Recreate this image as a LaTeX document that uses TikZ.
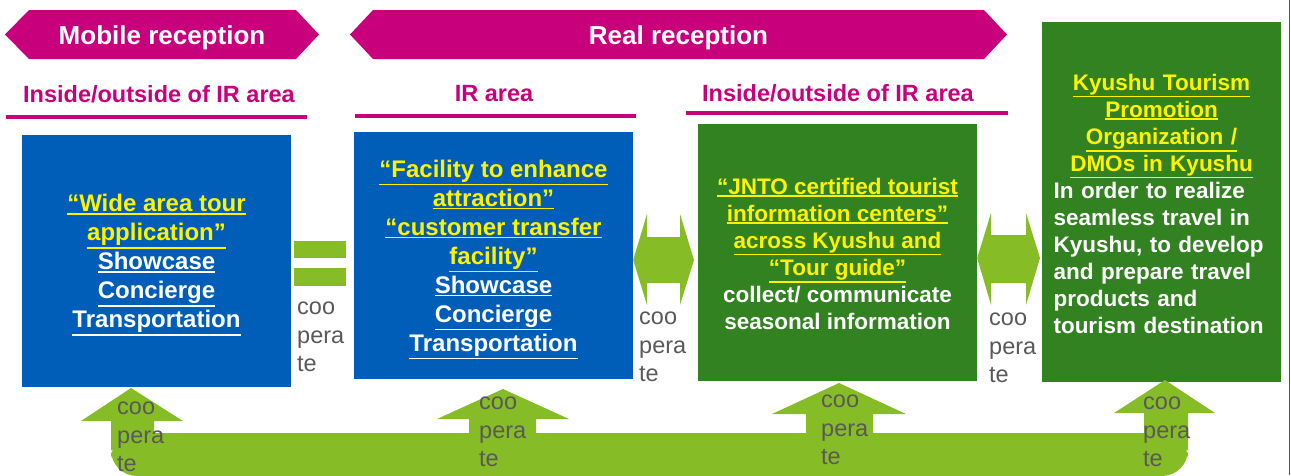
\documentclass[tikz,border=0pt]{standalone}
\usepackage{fontspec}
\setmainfont{Liberation Sans}
\usetikzlibrary{positioning}

\definecolor{recmag}{RGB}{200,0,124}
\definecolor{boxblue}{RGB}{0,94,184}
\definecolor{boxgreen}{RGB}{51,130,33}
\definecolor{coopgreen}{RGB}{134,188,37}
\definecolor{coopgray}{RGB}{89,89,89}
\definecolor{edgeblue}{RGB}{47,85,160}

\newcommand{\ulx}[1]{\mbox{\vtop{\hbox{#1}\kern1.2pt\hrule height 1.5pt}}}
\newcommand{\yellowul}[1]{\textcolor{yellow}{\ulx{#1}}}

\begin{document}
\begin{tikzpicture}[x=1pt,y=-1pt,
  banner/.style={text=white,font=\bfseries\fontsize{26}{31}\selectfont},
  areahead/.style={text=recmag,font=\bfseries\fontsize{23.5}{28}\selectfont},
  arealine/.style={recmag,line width=3.5pt},
  infobox/.style={inner sep=0pt},
  infotext/.style={inner sep=0pt,align=center,text=white},
  coop/.style={text=coopgray,align=left,inner sep=0pt,anchor=north west,font=\fontsize{23.5}{28.5}\selectfont}]

\useasboundingbox (0,0) rectangle (1291,475);

% banners
\fill[recmag] (5,34.5) -- (29,10) -- (296,10) -- (319,34.5) -- (296,59) -- (29,59) -- cycle;
\node[banner] (mobile) at (162,38) {Mobile reception};

\fill[recmag] (350,34.5) -- (373,10) -- (984,10) -- (1007,34.5) -- (984,59) -- (373,59) -- cycle;
\node[banner] (real) at (678.5,38) {Real reception};

% area headings
\node[areahead] (area1) at (159,94) {Inside/outside of IR area};
\draw[arealine] (6,117) -- (307,117);
\node[areahead] (area2) at (494,94) {IR area};
\draw[arealine] (355,116) -- (636,116);
\node[areahead] (area3) at (838,93) {Inside/outside of IR area};
\draw[arealine] (686,113) -- (1008,113);

% boxes
\node[infobox,fill=boxblue,minimum width=269,minimum height=252] (tourapp) at (156.5,261) {};
\node[infotext,font=\bfseries\fontsize{24}{29}\selectfont,yshift=-4pt] (tourtext) at (tourapp)
  {\yellowul{“Wide area tour}\\\yellowul{application”}\\\ulx{Showcase}\\\ulx{Concierge}\\\ulx{Transportation}};

\node[infobox,fill=boxblue,minimum width=279,minimum height=247] (facility) at (493.5,255.5) {};
\node[infotext,font=\bfseries\fontsize{24}{29}\selectfont,yshift=-4pt] (factext) at (facility)
  {\yellowul{“Facility to enhance}\\\yellowul{attraction”}\\\yellowul{“customer transfer}\\\yellowul{facility”}\\\ulx{Showcase}\\\ulx{Concierge}\\\ulx{Transportation}};

\node[infobox,fill=boxgreen,minimum width=279,minimum height=257] (jnto) at (837.5,252.5) {};
\node[infotext,font=\bfseries\fontsize{22.5}{27}\selectfont,yshift=-1pt] (jntotext) at (jnto)
  {\yellowul{“JNTO certified tourist}\\\yellowul{information centers”}\\\yellowul{across Kyushu and}\\\yellowul{“Tour guide”}\\collect/ communicate\\seasonal information};

\node[infobox,fill=boxgreen,minimum width=239,minimum height=360] (dmo) at (1161.5,202) {};
\node[infotext,text width=216,font=\bfseries\fontsize{22.5}{27}\selectfont,yshift=-1.5pt] (dmotext) at (dmo)
  {{\noindent\centering\yellowul{Kyushu Tourism}\\\yellowul{Promotion}\\\yellowul{Organization /}\\\yellowul{DMOs in Kyushu}\par}
   \noindent\raggedright In order to realize\\seamless travel in\\Kyushu, to develop\\and prepare travel\\products and\\tourism destination\par};

% equals and double arrows
\fill[coopgreen] (294,241) rectangle (346,258);
\fill[coopgreen] (294,268) rectangle (346,286);

\fill[coopgreen] (facility.east |- 0,260) -- (647,214) -- (647,237) -- (680,237) -- (680,214) -- (694,260)
  -- (680,305) -- (680,283) -- (647,283) -- (647,305) -- cycle;
\fill[coopgreen] (jnto.east |- 0,258) -- (991,213) -- (991,235) -- (1026,235) -- (1026,213) -- (1040,258)
  -- (1026,305) -- (1026,283) -- (991,283) -- (991,305) -- cycle;

% bottom band with up arrows
\fill[coopgreen,rounded corners=26] (111,433) rectangle (1188,476);
\fill[coopgreen] (131,388) -- (183,421) -- (154,421) -- (154,450) -- (111,450) -- (111,421) -- (81,421) -- cycle;
\fill[coopgreen] (503,389) -- (569,419) -- (536,419) -- (536,450) -- (469,450) -- (469,419) -- (437,419) -- cycle;
\fill[coopgreen] (839,383) -- (906,414) -- (873,414) -- (873,450) -- (806,450) -- (806,414) -- (772,414) -- cycle;
\fill[coopgreen] (1165,380) -- (1215,413) -- (1188,413) -- (1188,450) -- (1144,450) -- (1144,413) -- (1114,413) -- cycle;

% cooperate labels
\node[coop] (coopeq) at (297,302) {coo\\pera\\te};
\node[coop] (coopmid) at (639,312) {coo\\pera\\te};
\node[coop] (coopright) at (989,313) {coo\\pera\\te};
\node[coop] (cooptour) at (117,402) {coo\\pera\\te};
\node[coop] (coopfac) at (479,397) {coo\\pera\\te};
\node[coop] (coopjnto) at (821,395) {coo\\pera\\te};
\node[coop] (coopdmo) at (1143,397) {coo\\pera\\te};

\draw[edgeblue,line width=1.5pt] (1289.5,0) -- (1289.5,475);
\end{tikzpicture}
\end{document}
